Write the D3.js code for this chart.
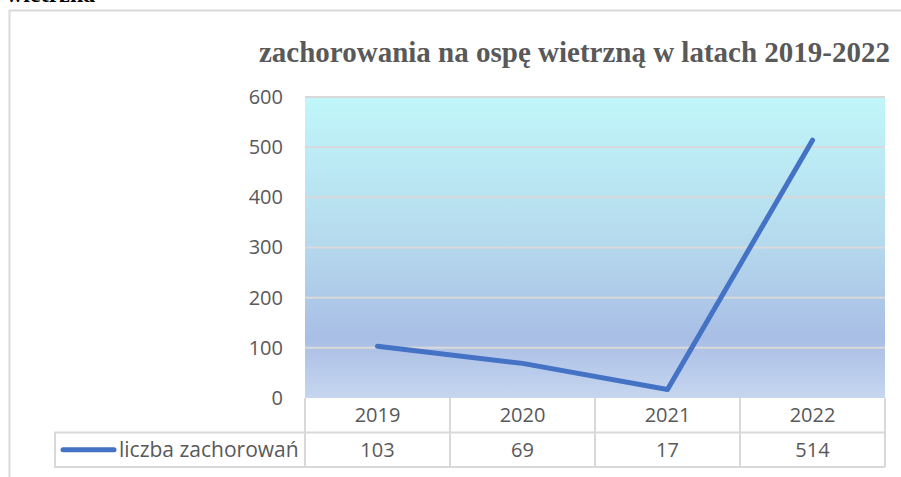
<!DOCTYPE html>
<html>
<head>
<meta charset="utf-8">
<script src="https://cdn.jsdelivr.net/npm/d3@7"></script>
<style>
  body { margin: 0; background: #fff; }
  svg { display: block; }
</style>
</head>
<body>
<svg id="chart"></svg>
<script>
const years = ["2019", "2020", "2021", "2022"];
const cases = [103, 69, 17, 514];
const yTicks = [0, 100, 200, 300, 400, 500, 600];
const seriesName = "liczba zachorowań";
const title = "zachorowania na ospę wietrzną w latach 2019-2022";

const W = 901, H = 477;
const svg = d3.select("#chart").attr("width", W).attr("height", H);

const plot = { left: 305, right: 885, top: 97, bottom: 398 };
const rowH = 34.5;
const labelFont = "Open Sans, Liberation Sans, sans-serif";

// cropped caption from the page above the chart
svg.append("text")
  .attr("x", 6).attr("y", 2)
  .style("font-family", "Liberation Serif, serif")
  .style("font-weight", "bold")
  .style("font-size", "24px")
  .style("fill", "#000")
  .text("wietrzna");

// chart frame
svg.append("rect")
  .attr("x", 9.5).attr("y", 10.5)
  .attr("width", 900).attr("height", 480)
  .attr("fill", "#fff")
  .attr("stroke", "#d9d9d9").attr("stroke-width", 2);

// background gradient of the plot area
const grad = svg.append("defs").append("linearGradient")
  .attr("id", "bg").attr("x1", 0).attr("y1", 0).attr("x2", 0).attr("y2", 1);
grad.append("stop").attr("offset", "0%").attr("stop-color", "#c0f6fa");
grad.append("stop").attr("offset", "45%").attr("stop-color", "#b6dcee");
grad.append("stop").attr("offset", "80%").attr("stop-color", "#a9bee5");
grad.append("stop").attr("offset", "100%").attr("stop-color", "#c6d6ef");

svg.append("rect")
  .attr("x", plot.left).attr("y", plot.top)
  .attr("width", plot.right - plot.left).attr("height", plot.bottom - plot.top)
  .attr("fill", "url(#bg)");

const x = d3.scaleBand().domain(years).range([plot.left, plot.right]);
const y = d3.scaleLinear().domain([0, 600]).range([plot.bottom, plot.top]);

// gridlines
svg.append("g")
  .selectAll("line")
  .data(yTicks.filter(d => d > 0))
  .join("line")
  .attr("x1", plot.left).attr("x2", plot.right)
  .attr("y1", d => y(d)).attr("y2", d => y(d))
  .attr("stroke", "#d9d9d9").attr("stroke-width", 2);

// y axis labels
const yAxis = svg.append("g")
  .attr("transform", `translate(${plot.left - 13},0)`)
  .call(d3.axisLeft(y).tickValues(yTicks).tickSize(0).tickPadding(9));
yAxis.select(".domain").remove();
yAxis.selectAll("text")
  .style("font-family", labelFont)
  .style("font-size", "20px")
  .style("fill", "#595959");

// line
const line = d3.line()
  .x((d, i) => x(years[i]) + x.bandwidth() / 2)
  .y(d => y(d));

svg.append("path")
  .datum(cases)
  .attr("d", line)
  .attr("fill", "none")
  .attr("stroke", "#4472c4")
  .attr("stroke-width", 5)
  .attr("stroke-linecap", "round")
  .attr("stroke-linejoin", "round");

// data table
const table = svg.append("g");
const gridColor = "#d9d9d9";
const tableBottom = plot.bottom + 2 * rowH;

table.append("rect")
  .attr("x", 55).attr("y", plot.bottom + rowH)
  .attr("width", plot.left - 55).attr("height", rowH)
  .attr("fill", "none").attr("stroke", gridColor).attr("stroke-width", 2);

table.selectAll("line.v")
  .data(years.map(d => x(d)).concat([plot.right]))
  .join("line")
  .attr("class", "v")
  .attr("x1", d => d).attr("x2", d => d)
  .attr("y1", plot.bottom).attr("y2", tableBottom)
  .attr("stroke", gridColor).attr("stroke-width", 2);

table.selectAll("line.h")
  .data([plot.bottom + rowH, tableBottom])
  .join("line")
  .attr("class", "h")
  .attr("x1", plot.left).attr("x2", plot.right)
  .attr("y1", d => d).attr("y2", d => d)
  .attr("stroke", gridColor).attr("stroke-width", 2);

const cellText = sel => sel
  .style("font-family", labelFont)
  .style("font-size", "20px")
  .style("fill", "#595959");

table.selectAll("text.year")
  .data(years)
  .join("text")
  .attr("class", "year")
  .attr("x", d => x(d) + x.bandwidth() / 2)
  .attr("y", plot.bottom + rowH / 2)
  .attr("dy", "0.36em")
  .attr("text-anchor", "middle")
  .call(cellText)
  .text(d => d);

table.selectAll("text.val")
  .data(cases)
  .join("text")
  .attr("class", "val")
  .attr("x", (d, i) => x(years[i]) + x.bandwidth() / 2)
  .attr("y", plot.bottom + rowH * 1.5)
  .attr("dy", "0.36em")
  .attr("text-anchor", "middle")
  .call(cellText)
  .text(d => d);

// legend key inside the table
table.append("line")
  .attr("x1", 63).attr("x2", 114)
  .attr("y1", plot.bottom + rowH * 1.5).attr("y2", plot.bottom + rowH * 1.5)
  .attr("stroke", "#4472c4").attr("stroke-width", 5)
  .attr("stroke-linecap", "round");

table.append("text")
  .attr("x", 119)
  .attr("y", plot.bottom + rowH * 1.5)
  .attr("dy", "0.36em")
  .call(cellText)
  .style("font-size", "21px")
  .text(seriesName);

// title
svg.append("text")
  .attr("x", 574.5).attr("y", 62)
  .attr("text-anchor", "middle")
  .style("font-family", "Liberation Serif, serif")
  .style("font-weight", "bold")
  .style("font-size", "29px")
  .style("fill", "#595959")
  .text(title);
</script>
</body>
</html>
